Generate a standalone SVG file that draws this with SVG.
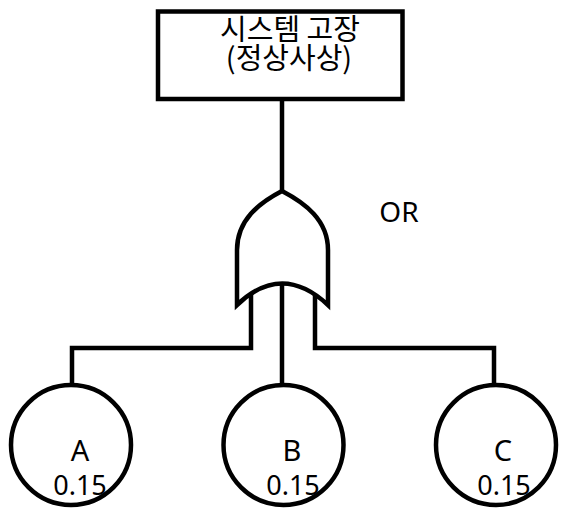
<svg xmlns="http://www.w3.org/2000/svg" width="566" height="518" viewBox="0 0 566 518">
<style>
.ln{fill:none;stroke:#000;stroke-width:4.5;stroke-linejoin:miter}
.nd{fill:#fff;stroke:#000;stroke-width:4.5}
.t{font-family:"Noto Sans","Noto Sans CJK KR",sans-serif;fill:#000;text-anchor:middle}
.kr{font-family:"Noto Sans CJK KR","Noto Sans",sans-serif;font-size:29px;fill:#000;text-anchor:middle}
.lbl{font-size:29px}
.num{font-size:27px}
</style>
<rect width="566" height="518" fill="#fff"/>
<g id="connectors">
<path class="ln" d="M282,101 V192"/>
<path class="ln" d="M251,294 V348 H72 V385"/>
<path class="ln" d="M315,294 V348 H494 V385"/>
<path class="ln" d="M282,284 V385"/>
</g>
<g id="top">
<rect class="nd" x="158" y="11.5" width="244.5" height="87.5"/>
<text class="kr" x="290" y="40">시스템 고장</text>
<text class="kr" x="289" y="69">(정상사상)</text>
</g>
<g id="or-gate">
<path class="nd" d="M282,191 C305,203 328,220 328,250 L328,305 Q282,262 237,305 L237,250 C237,220 259,203 282,191 Z"/>
<text class="t" x="399" y="222" font-size="28">OR</text>
</g>
<g id="event-a">
<circle class="nd" cx="71" cy="445" r="60"/>
<text class="t lbl" x="80" y="461">A</text>
<text class="t num" x="80" y="495">0.15</text>
</g>
<g id="event-b">
<circle class="nd" cx="283.5" cy="445" r="60"/>
<text class="t lbl" x="292" y="461">B</text>
<text class="t num" x="293" y="495">0.15</text>
</g>
<g id="event-c">
<circle class="nd" cx="496" cy="445" r="60"/>
<text class="t lbl" x="503" y="461">C</text>
<text class="t num" x="504" y="495">0.15</text>
</g>
</svg>
